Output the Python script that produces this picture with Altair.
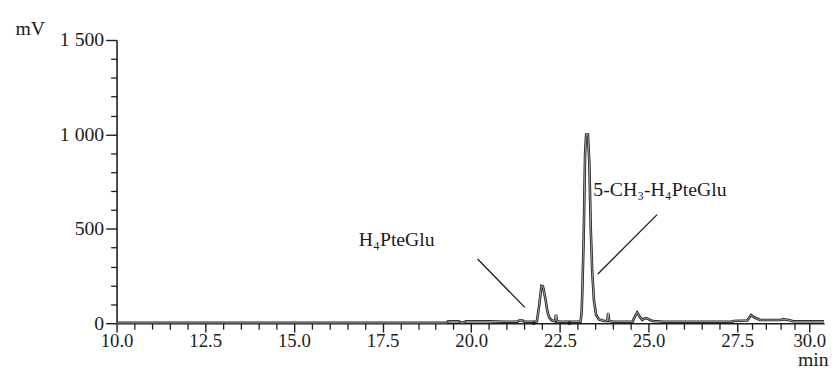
import altair as alt
import pandas as pd

# ---- data ----
time_min = [10.0, 19.3, 19.35, 19.65, 19.7, 19.8, 19.85, 20.5, 20.9, 21.3, 21.35, 21.45,
            21.5, 21.8, 21.85, 21.92, 21.98, 22.02, 22.06, 22.1, 22.15, 22.2, 22.27, 22.36, 22.39,
            22.42, 22.5, 23.08, 23.11, 23.13, 23.17, 23.21, 23.24, 23.29, 23.33, 23.37,
            23.41, 23.46, 23.52, 23.6, 23.75, 23.84, 23.86, 23.89, 24.0, 24.55, 24.6,
            24.68, 24.75, 24.82, 24.92, 25.0, 25.07, 25.15, 25.25, 25.4, 27.35, 27.4,
            27.85, 27.98, 28.1, 28.3, 29.0, 29.1, 29.2, 29.45, 30.5]
signal_mv = [2, 2, 10, 10, 3, 3, 10, 10, 8, 8, 14, 14,
             8, 8, 10, 100, 198, 196, 160, 120, 60, 30, 15, 10, 45,
             10, 8, 8, 50, 150, 450, 900, 1000, 1000, 850, 500,
             280, 120, 45, 20, 12, 12, 55, 12, 8, 8, 30,
             57, 35, 18, 27, 22, 14, 10, 10, 8, 8, 12,
             14, 43, 30, 17, 17, 21, 20, 10, 10]

y_major = [0, 500, 1000, 1500]
y_minor = [v for v in range(0, 1501, 100) if v % 500]
x_major = [10.0, 12.5, 15.0, 17.5, 20.0, 22.5, 25.0, 27.5, 30.0]
x_minor = [v / 2 for v in range(20, 61) if (v / 2) not in x_major]

label_text = ["H\u2084PteGlu", "5-CH\u2083-H\u2084PteGlu"]
label_t = [17.9, 25.32]
label_mv = [439, 705]
leader_t = [20.18, 25.24]
leader_mv = [340, 575]
leader_t2 = [21.51, 23.57]
leader_mv2 = [84, 261]
marker_t = [21.76, 22.77]
marker_mv = [0, 0]

trace = pd.DataFrame({"t": time_min, "mv": signal_mv})
labels = pd.DataFrame({"t": label_t, "mv": label_mv, "txt": label_text})
leaders = pd.DataFrame({"t": leader_t, "mv": leader_mv, "t2": leader_t2, "mv2": leader_mv2})
markers = pd.DataFrame({"t": marker_t, "mv": marker_mv})

FONT = "Liberation Serif"
FS = 20
INK = "#1c1c1c"

xscale = alt.Scale(domain=[10, 27.5, 30, 30.5], range=[0, 629, 702, 717], nice=False, zero=False)
yscale = alt.Scale(domain=[0, 1500], nice=False, zero=False)

x_major_axis = alt.Axis(values=x_major, format=".1f", orient="bottom", tickSize=9, tickWidth=1.4,
                        tickColor=INK, domainColor=INK, domainWidth=1.6, labelPadding=0,
                        labelFont=FONT, labelFontSize=19, labelColor=INK, labelFlush=False,
                        grid=False, title="min", titleFont=FONT, titleFontSize=FS,
                        titleFontWeight="normal", titleColor=INK, titleAnchor="start",
                        titleAlign="left", titleX=690, titleY=43, titleBaseline="alphabetic")
y_major_axis = alt.Axis(values=y_major, orient="left", tickSize=11, tickWidth=1.4, tickColor=INK,
                        domainColor=INK, domainWidth=1.6, labelPadding=2, labelFont=FONT,
                        labelFontSize=FS, labelColor=INK,
                        labelExpr="replace(format(datum.value, ','), ',', ' ')",
                        grid=False, title="mV", titleAngle=0, titleFont=FONT, titleFontSize=FS,
                        titleFontWeight="normal", titleColor=INK, titleAlign="left",
                        titleBaseline="alphabetic", titleX=-103, titleY=-6)
x_minor_axis = alt.Axis(values=x_minor, orient="bottom", tickSize=6, tickWidth=1.3, tickColor=INK,
                        labels=False, domain=False, grid=False, title=None)
y_minor_axis = alt.Axis(values=y_minor, orient="left", tickSize=6, tickWidth=1.3, tickColor=INK,
                        labels=False, domain=False, grid=False, title=None)

outer = alt.Chart(trace).mark_line(color=INK, strokeWidth=2.6, interpolate="linear").encode(
    x=alt.X("t:Q", scale=xscale, axis=x_major_axis),
    y=alt.Y("mv:Q", scale=yscale, axis=y_major_axis),
)
inner = alt.Chart(trace).mark_line(color="#ffffff", strokeWidth=0.8, opacity=0.75).encode(
    x=alt.X("t:Q", scale=xscale, axis=None),
    y=alt.Y("mv:Q", scale=yscale, axis=None),
)
minor = alt.Chart(trace).mark_point(opacity=0).encode(
    x=alt.X("t:Q", scale=xscale, axis=x_minor_axis),
    y=alt.Y("mv:Q", scale=yscale, axis=y_minor_axis),
)
rules = alt.Chart(leaders).mark_rule(color=INK, strokeWidth=1.3).encode(
    x=alt.X("t:Q", scale=xscale, axis=None),
    y=alt.Y("mv:Q", scale=yscale, axis=None),
    x2="t2:Q",
    y2="mv2:Q",
)
texts = alt.Chart(labels).mark_text(font=FONT, fontSize=FS, color=INK, align="center",
                                    baseline="middle").encode(
    x=alt.X("t:Q", scale=xscale, axis=None),
    y=alt.Y("mv:Q", scale=yscale, axis=None),
    text="txt:N",
)
dots = alt.Chart(markers).mark_circle(color=INK, size=14, opacity=1).encode(
    x=alt.X("t:Q", scale=xscale, axis=None),
    y=alt.Y("mv:Q", scale=yscale, axis=None),
)

chart = alt.layer(outer, inner, minor, rules, texts, dots).resolve_axis(
    x="independent", y="independent"
).properties(
    width=717, height=287,
    padding={"left": 7, "top": 8, "right": 0, "bottom": 0},
    background="white",
).configure_view(stroke=None)

chart.save("out.html", embed_options={"renderer": "svg", "actions": False})
